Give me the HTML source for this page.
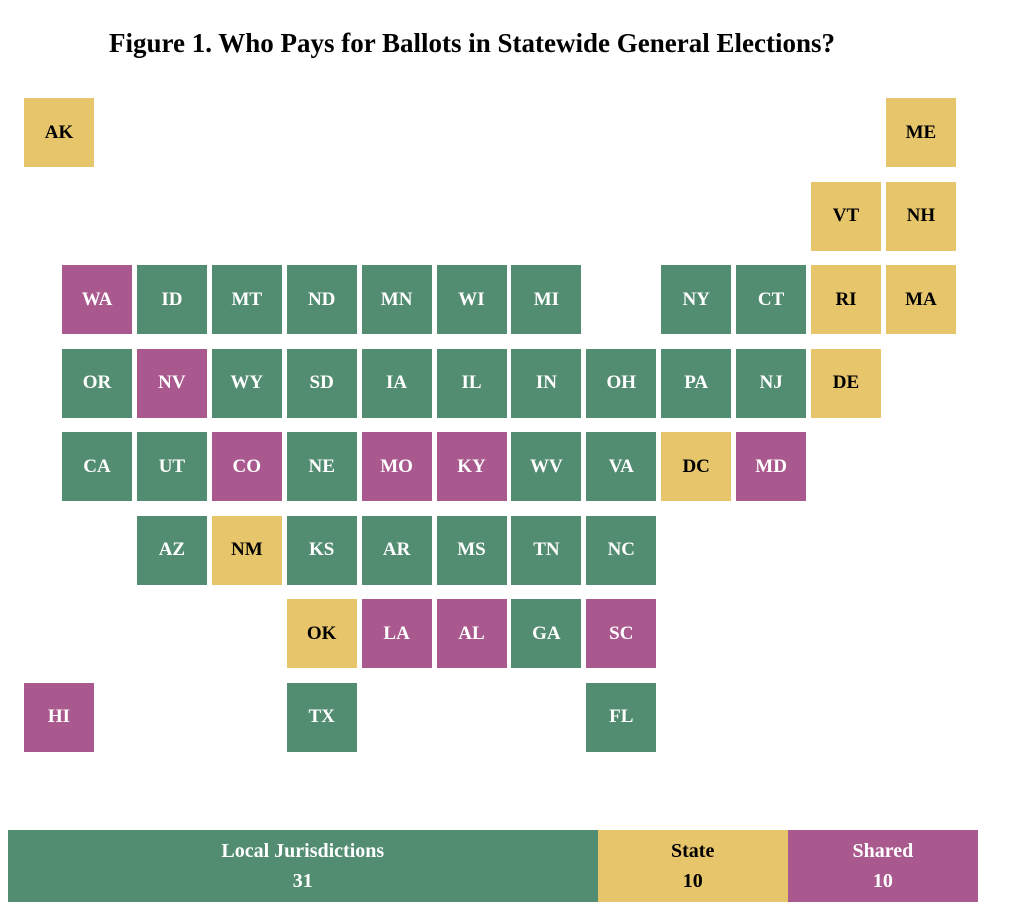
<!DOCTYPE html>
<html><head><meta charset="utf-8"><style>
body{margin:0;background:#fff;width:1024px;height:915px;position:relative;font-family:"Liberation Serif",serif;overflow:hidden}
#title{position:absolute;left:0;width:944px;top:28px;text-align:center;font-weight:bold;font-size:27px;color:#000;white-space:nowrap}
.t{position:absolute;width:70px;height:69px;display:flex;align-items:center;justify-content:center;font-weight:bold;font-size:19px}
.seg{position:absolute;top:830px;height:72px;display:flex;flex-direction:column;align-items:center;justify-content:center;font-weight:bold;font-size:20px;line-height:30px}
</style></head><body>
<div id="title">Figure 1. Who Pays for Ballots in Statewide General Elections?</div>
<div id="map"></div>
<div id="bar"></div>
<script>
const states=["AK","ME","VT","NH","WA","ID","MT","ND","MN","WI","MI","NY","CT","RI","MA","OR","NV","WY","SD","IA","IL","IN","OH","PA","NJ","DE","CA","UT","CO","NE","MO","KY","WV","VA","DC","MD","AZ","NM","KS","AR","MS","TN","NC","OK","LA","AL","GA","SC","HI","TX","FL"];
const cols=[-0.5,11,10,11,0,1,2,3,4,5,6,8,9,10,11,0,1,2,3,4,5,6,7,8,9,10,0,1,2,3,4,5,6,7,8,9,1,2,3,4,5,6,7,3,4,5,6,7,-0.5,3,7];
const rows=[0,0,1,1,2,2,2,2,2,2,2,2,2,2,2,3,3,3,3,3,3,3,3,3,3,3,4,4,4,4,4,4,4,4,4,4,5,5,5,5,5,5,5,6,6,6,6,6,7,7,7];
const payer=["S","S","S","S","H","L","L","L","L","L","L","L","L","S","S","L","H","L","L","L","L","L","L","L","L","S","L","L","H","L","H","H","L","L","S","H","L","S","L","L","L","L","L","S","H","H","L","H","H","L","L"];
const cats=["Local Jurisdictions","State","Shared"];
const counts=[31,10,10];
const color={L:"#538d71",S:"#e6c56b",H:"#a9598d"};
const segColors=["#538d71","#e6c56b","#a9598d"];
const xCol=c=>62+c*74.9;
const yRow=r=>98+r*83.5;
const map=document.getElementById('map');
states.forEach((s,i)=>{
  const d=document.createElement('div');
  d.className='t';
  
  
  const x=cols[i]<0?24:xCol(cols[i]);
  d.style.left=x+'px';d.style.top=yRow(rows[i])+'px';
  d.style.background=color[payer[i]];
  d.style.color=payer[i]==="S"?"#000":"#fff";
  d.textContent=s;
  map.appendChild(d);
});
const bar=document.getElementById('bar');
const total=counts.reduce((a,b)=>a+b,0);
const X0=8,W=970;let acc=0;
cats.forEach((c,i)=>{
  const d=document.createElement('div');
  d.className='seg';
  
  
  d.style.left=(X0+acc/total*W)+'px';
  d.style.width=(counts[i]/total*W)+'px';
  d.style.background=segColors[i];
  d.style.color=i===1?"#000":"#fff";
  d.innerHTML='<div>'+c+'</div><div>'+counts[i]+'</div>';
  acc+=counts[i];
  bar.appendChild(d);
});
</script>
</body></html>
